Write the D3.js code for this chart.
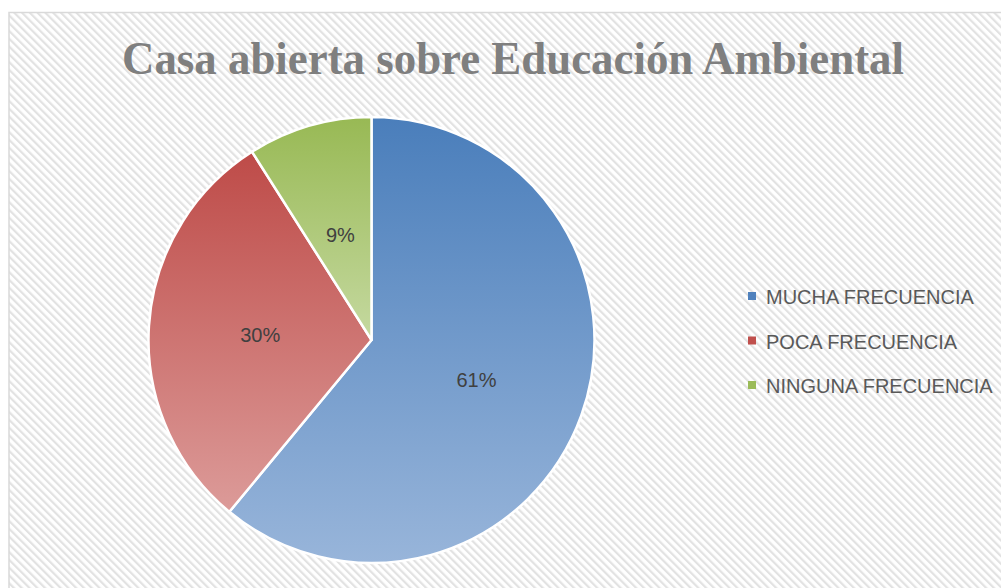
<!DOCTYPE html>
<html><head><meta charset="utf-8">
<script src="https://cdn.jsdelivr.net/npm/d3@7"></script>
<style>html,body{margin:0;padding:0;background:#fff;overflow:hidden}</style>
</head><body>
<svg id="c" width="1001" height="588"></svg>
<script>
const title = "Casa abierta sobre Educación Ambiental";
const categories = ["MUCHA FRECUENCIA", "POCA FRECUENCIA", "NINGUNA FRECUENCIA"];
const values = [61, 30, 9];
const labels = ["61%", "30%", "9%"];
const colorsTop = ["#4a7ebb", "#be4b48", "#98b954"];
const colorsBottom = ["#98b5da", "#dc9b99", "#c5d9a0"];
const legendColors = ["#4f81bd", "#c0504d", "#9bbb59"];

const svg = d3.select("#c");
const defs = svg.append("defs");
const pat = defs.append("pattern").attr("id","hatch").attr("patternUnits","userSpaceOnUse")
  .attr("width",5.5).attr("height",5.5).attr("patternTransform","rotate(-45)");
pat.append("rect").attr("width",5.5).attr("height",5.5).attr("fill","#ffffff");
pat.append("rect").attr("width",2.2).attr("height",5.5).attr("fill","#e2e2e2");

values.forEach((v,i)=>{
  const g = defs.append("linearGradient").attr("id","g"+i).attr("x1",0).attr("y1",0).attr("x2",0).attr("y2",1);
  g.append("stop").attr("offset","0%").attr("stop-color",colorsTop[i]);
  g.append("stop").attr("offset","100%").attr("stop-color",colorsBottom[i]);
});

// chart area
svg.append("rect").attr("x",9).attr("y",12.5).attr("width",1000).attr("height",600)
  .attr("fill","url(#hatch)").attr("stroke","#d9d9d9").attr("stroke-width",1.5);

// title
svg.append("text").attr("x",513).attr("y",74).attr("text-anchor","middle")
  .attr("font-family","'Liberation Serif', serif").attr("font-weight","bold")
  .attr("font-size",46).attr("fill","#7f7f7f")
  .attr("textLength",782).attr("lengthAdjust","spacingAndGlyphs")
  .text(title);

// pie
const cx = 371.5, cy = 340, r = 223;
const pie = d3.pie().sort(null).value(d=>d);
const arcs = pie(values);
const arc = d3.arc().innerRadius(0).outerRadius(r);
const g = svg.append("g").attr("transform",`translate(${cx},${cy})`);
g.selectAll("path").data(arcs).join("path")
  .attr("d",arc).attr("fill",(d,i)=>`url(#g${i})`)
  .attr("stroke","#fff").attr("stroke-width",2.5).attr("stroke-linejoin","round");
g.selectAll("text").data(arcs).join("text")
  .attr("transform",d=>{const c=arc.centroid(d);return `translate(${c[0]},${c[1]+2})`;})
  .attr("text-anchor","middle").attr("dy","0.36em")
  .attr("font-family","'Liberation Sans', sans-serif").attr("font-size",20)
  .attr("fill","#404040")
  .text((d,i)=>labels[i]);

// legend
const leg = svg.append("g");
categories.forEach((c,i)=>{
  const y = 304 + i*44.5;
  leg.append("rect").attr("x",748).attr("y",y-12).attr("width",8).attr("height",8)
    .attr("fill",legendColors[i]);
  leg.append("text").attr("x",766).attr("y",y)
    .attr("font-family","'Liberation Sans', sans-serif").attr("font-size",20)
    .attr("fill","#595959").text(c);
});
</script>
</body></html>
